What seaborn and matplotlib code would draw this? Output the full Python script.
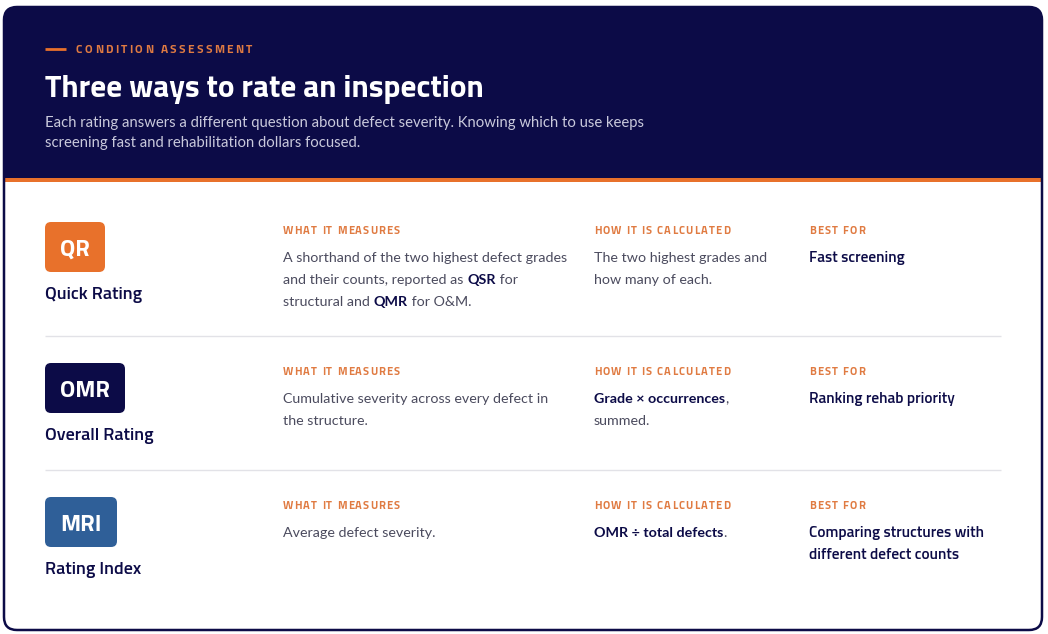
import matplotlib
matplotlib.use("Agg")
import matplotlib.pyplot as plt
import seaborn as sns
from matplotlib import font_manager
from matplotlib.font_manager import FontProperties
from matplotlib.patches import FancyBboxPatch, Rectangle

# palette
NAVY = "#0c0b47"
ORANGE = "#e8712b"
ORANGE_TXT = "#e07b42"
BLUE = "#2f5f98"
BODY = "#4b4b5e"
SUBTLE = "#c9c9dc"
RULE = "#e2e2e7"

# content
eyebrow = "CONDITION ASSESSMENT"
title = "Three ways to rate an inspection"
subtitle = ["Each rating answers a different question about defect severity. Knowing which to use keeps",
            "screening fast and rehabilitation dollars focused."]

codes = ["QR", "OMR", "MRI"]
names = ["Quick Rating", "Overall Rating", "Rating Index"]
badge_colors = [ORANGE, NAVY, BLUE]
col_heads = ["WHAT IT MEASURES", "HOW IT IS CALCULATED", "BEST FOR"]
measures = [["A shorthand of the two highest defect grades",
             "and their counts, reported as **QSR** for",
             "structural and **QMR** for O&M."],
            ["Cumulative severity across every defect in",
             "the structure."],
            ["Average defect severity."]]
calculated = [["The two highest grades and",
               "how many of each."],
              ["**Grade × occurrences**,",
               "summed."],
              ["**OMR ÷ total defects**."]]
best_for = [["Fast screening"],
            ["Ranking rehab priority"],
            ["Comparing structures with",
             "different defect counts"]]

# layout (pixels, y down)
row_tops = [222, 363, 497]
badge_w = [60, 80, 72]
badge_h = 50
col_x = [283, 594, 809]
head_w = [117, 136, 56]
dividers = [336, 470]


def pick(cands):
    # want a family with separate static regular and bold files
    for c in cands:
        try:
            reg = font_manager.findfont(FontProperties(family=c), fallback_to_default=False)
            bld = font_manager.findfont(FontProperties(family=c, weight="bold"), fallback_to_default=False)
        except ValueError:
            continue
        bad = ("VF", "Variable", "[", "Light", "Thin")
        if reg != bld and not any(b in reg or b in bld for b in bad):
            return c
    return "DejaVu Sans"


sns.set_theme(style="white")
HEAD = pick(["Titillium Web", "Fira Sans", "Roboto"])
TEXT = pick(["Source Sans Pro", "Source Sans 3", "Lato"])
plt.rcParams["font.family"] = [TEXT, "DejaVu Sans"]

fig = plt.figure(figsize=(10.48, 6.34), dpi=100)
ax = fig.add_axes([0, 0, 1, 1])
ax.set_xlim(0, 1048)
ax.set_ylim(634, 0)
ax.axis("off")
renderer = fig.canvas.get_renderer()


def measure(s, **kw):
    probe = ax.text(0, 0, s + "|", **kw)
    bar = ax.text(0, 0, "|", **kw)
    w = probe.get_window_extent(renderer).width - bar.get_window_extent(renderer).width
    probe.remove()
    bar.remove()
    return w


def fit(s, width, **kw):
    return 10 * width / measure(s, fontsize=10, **kw)


def runs(x, y, line, size, color, family, weight="normal"):
    for i, part in enumerate(line.split("**")):
        if not part:
            continue
        kw = dict(fontsize=size, family=family,
                  color=NAVY if i % 2 else color,
                  fontweight="bold" if i % 2 else weight)
        ax.text(x, y, part, va="baseline", ha="left", **kw)
        x += measure(part, **kw)


def tracked(x, y, s, width, size, color):
    kw = dict(fontsize=size, family=HEAD, fontweight="bold", color=color)
    adv = [measure(ch, **kw) for ch in s]
    gap = (width - sum(adv)) / (len(s) - 1)
    for ch, a in zip(s, adv):
        ax.text(x, y, ch, va="baseline", ha="left", **kw)
        x += a + gap


# card + header band
card = FancyBboxPatch((4, 7), 1038, 623, boxstyle="round,pad=0,rounding_size=13",
                      fc="white", ec="none", zorder=0)
ax.add_patch(card)
band = Rectangle((4, 7), 1038, 171, fc=NAVY, ec="none", zorder=1)
band.set_clip_path(card)
ax.add_patch(band)
stripe = Rectangle((4, 178), 1038, 4, fc=ORANGE, ec="none", zorder=1)
stripe.set_clip_path(card)
ax.add_patch(stripe)
ax.add_patch(FancyBboxPatch((4, 7), 1038, 623, boxstyle="round,pad=0,rounding_size=13",
                            fc="none", ec=NAVY, lw=1.8, zorder=5))

# header text
ax.plot([45, 66], [49, 49], color=ORANGE, lw=2, solid_capstyle="butt")
tracked(76, 53, eyebrow, 176, 8.6, ORANGE_TXT)
ts = fit(title, 437, family=HEAD, fontweight="bold")
ax.text(45, 97, title, fontsize=ts, family=HEAD, fontweight="bold", color="white", va="baseline")
ss = fit(subtitle[0], 600, family=TEXT)
for i, line in enumerate(subtitle):
    ax.text(45, 126.5 + 21 * i, line, fontsize=ss, family=TEXT, color=SUBTLE, va="baseline")

# rows
bs = fit(measures[0][0], 285, family=TEXT)
ls = fit(names[0], 97, family=HEAD, fontweight="semibold")
fs = fit(best_for[2][0], 176, family=HEAD, fontweight="semibold")
cs = fit(codes[1], 50, family=HEAD, fontweight="bold")

ax.hlines(dividers, 45, 1001, color=RULE, lw=1)

for r, top in enumerate(row_tops):
    ax.add_patch(FancyBboxPatch((45, top), badge_w[r], badge_h,
                                boxstyle="round,pad=0,rounding_size=6",
                                fc=badge_colors[r], ec="none", zorder=2))
    ax.text(45 + badge_w[r] / 2, top + 34, codes[r], fontsize=cs, family=HEAD,
            fontweight="bold", color="white", ha="center", va="baseline", zorder=3)
    ax.text(45, top + 77, names[r], fontsize=ls, family=HEAD, fontweight="semibold",
            color=NAVY, va="baseline")

    for c, head in enumerate(col_heads):
        tracked(col_x[c], top + 12, head, head_w[c], 8.0, ORANGE_TXT)

    for i, line in enumerate(measures[r]):
        runs(col_x[0], top + 40 + 22 * i, line, bs, BODY, TEXT)
    for i, line in enumerate(calculated[r]):
        runs(col_x[1], top + 40 + 22 * i, line, bs, BODY, TEXT)
    for i, line in enumerate(best_for[r]):
        ax.text(col_x[2], top + 40 + 22 * i, line, fontsize=fs, family=HEAD,
                fontweight="semibold", color=NAVY, va="baseline")

fig.savefig("out.png", dpi=100, facecolor="white")
